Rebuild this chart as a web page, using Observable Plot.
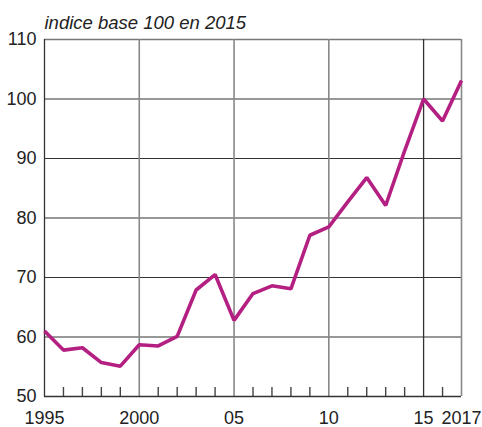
<!DOCTYPE html>
<html>
<head>
<meta charset="utf-8">
<script src="https://cdn.jsdelivr.net/npm/d3@7"></script>
<script src="https://cdn.jsdelivr.net/npm/@observablehq/plot@0.6"></script>
<style>
  html, body { margin: 0; padding: 0; background: #fff; }
  #chart svg { display: block; }
</style>
</head>
<body>
<div id="chart"></div>
<script>
const years = [1995,1996,1997,1998,1999,2000,2001,2002,2003,2004,2005,2006,2007,2008,2009,2010,2011,2012,2013,2014,2015,2016,2017];
const values = [61.0,57.8,58.2,55.7,55.1,58.7,58.5,60.1,67.9,70.5,62.8,67.3,68.6,68.1,77.1,78.5,82.7,86.8,82.1,91.3,100.0,96.3,103.1];
const xTicks = [1995, 2000, 2005, 2010, 2015, 2017];
const xTickLabels = ["1995", "2000", "05", "10", "15", "2017"];
const yTicks = [50, 60, 70, 80, 90, 100, 110];
const title = "indice base 100 en 2015";

const data = years.map((y, i) => ({year: y, value: values[i]}));
const minorYears = years.filter(y => !xTicks.includes(y));
const labelOf = new Map(xTicks.map((t, i) => [t, xTickLabels[i]]));

const chart = Plot.plot({
  width: 482,
  height: 427,
  marginLeft: 44,
  marginRight: 21,
  marginTop: 39,
  marginBottom: 31,
  style: {fontFamily: "'Liberation Sans', Arial, sans-serif", fontSize: "18px", color: "#222", background: "#fff"},
  x: {domain: [1995, 2017]},
  y: {domain: [50, 110]},
  marks: [
    Plot.ruleY([60, 70, 80, 90, 100], {stroke: "#333", strokeWidth: 1.2}),
    Plot.ruleY([110], {stroke: "#777", strokeWidth: 1.5}),
    Plot.ruleX([2000, 2005, 2010], {stroke: "#888", strokeWidth: 1.6}),
    Plot.ruleX([2015], {stroke: "#333", strokeWidth: 1.3}),
    Plot.ruleX([2017], {stroke: "#888", strokeWidth: 1.6}),
    Plot.ruleX(minorYears, {y1: 50, y2: 50, insetTop: -9, stroke: "#444", strokeWidth: 1.4}),
    Plot.ruleX([1995], {stroke: "#333", strokeWidth: 1.3}),
    Plot.ruleY([50], {stroke: "#333", strokeWidth: 1.3}),
    Plot.axisY(yTicks, {tickSize: 0, tickPadding: 8, fontSize: 18, label: null, fill: "#222"}),
    Plot.axisX(xTicks, {tickSize: 0, tickPadding: 15, fontSize: 18, label: null, fill: "#222", tickFormat: d => labelOf.get(d)}),
    Plot.line(data, {x: "year", y: "value", stroke: "#b41f82", strokeWidth: 3.6, strokeLinejoin: "miter", strokeLinecap: "butt"}),
    Plot.text([title], {frameAnchor: "top-left", dx: 0, dy: -11, lineAnchor: "bottom", textAnchor: "start", fontStyle: "italic", fontSize: 18.5, fill: "#222"})
  ]
});
document.getElementById("chart").appendChild(chart);
</script>
</body>
</html>
